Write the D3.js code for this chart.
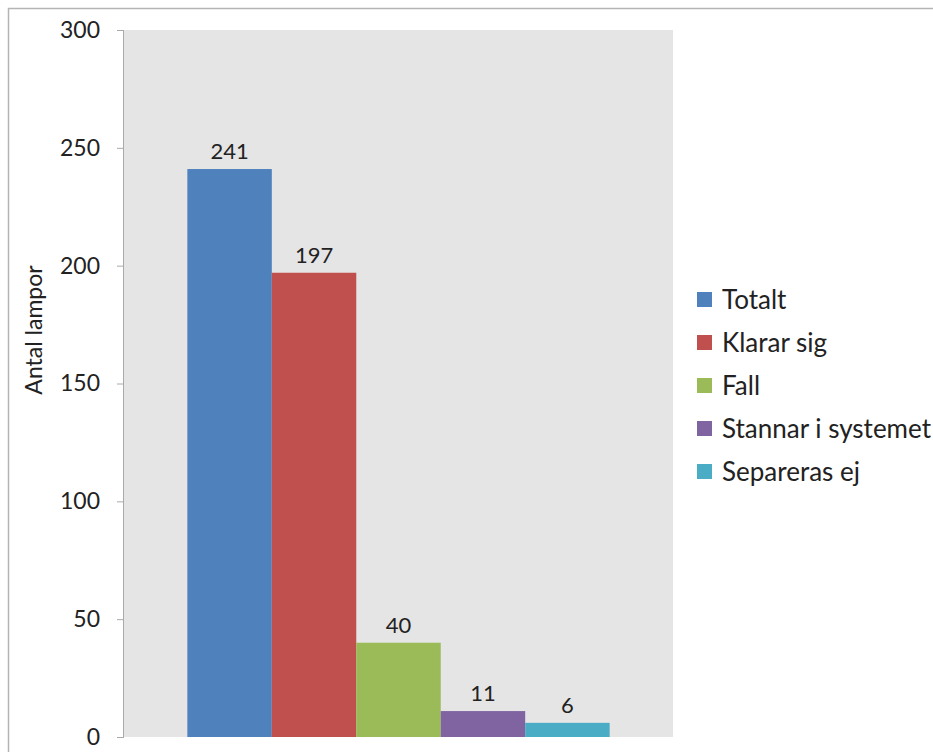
<!DOCTYPE html>
<html>
<head>
<meta charset="utf-8">
<script src="https://cdn.jsdelivr.net/npm/d3@7"></script>
<style>
  html, body { margin: 0; padding: 0; background: #fff; }
  svg { display: block; }
  text { font-family: Lato, "Open Sans", sans-serif; fill: #222; }
</style>
</head>
<body>
<svg id="chart" width="933" height="752"></svg>
<script>
// Lamp counts per outcome
const series = ["Totalt", "Klarar sig", "Fall", "Stannar i systemet", "Separeras ej"];
const values = [241, 197, 40, 11, 6];
const colors = ["#4F81BD", "#C0504D", "#9BBB59", "#8064A2", "#4BACC6"];
const yTicks = [0, 50, 100, 150, 200, 250, 300];
const yTitle = "Antal lampor";

const svg = d3.select("#chart");
const sansFont = "'Liberation Sans', Arial, sans-serif";

// outer frame
svg.append("rect")
  .attr("x", 8.5).attr("y", 8.5)
  .attr("width", 940).attr("height", 760)
  .attr("fill", "none").attr("stroke", "#b4b4b4").attr("stroke-width", 1.5);

const plot = { left: 124, right: 673, top: 30, bottom: 737 };

const y = d3.scaleLinear().domain([0, 300]).range([plot.bottom, plot.top]);
const x = d3.scaleBand().domain(series)
  .range([plot.left, plot.right])
  .paddingInner(0).paddingOuter(0.75);

// plot background
svg.append("rect")
  .attr("x", plot.left).attr("y", plot.top)
  .attr("width", plot.right - plot.left).attr("height", plot.bottom - plot.top)
  .attr("fill", "#e5e5e5");

// bars
svg.selectAll("rect.bar").data(series).enter().append("rect")
  .attr("class", "bar")
  .attr("x", d => x(d))
  .attr("width", x.bandwidth())
  .attr("y", (d, i) => y(values[i]))
  .attr("height", (d, i) => y(0) - y(values[i]))
  .attr("fill", (d, i) => colors[i]);

// value labels
svg.selectAll("text.val").data(series).enter().append("text")
  .attr("class", "val")
  .attr("x", d => x(d) + x.bandwidth() / 2)
  .attr("y", (d, i) => y(values[i]) - 10)
  .attr("text-anchor", "middle")
  .attr("font-size", 22)
  .text((d, i) => values[i]);

// y axis
const yAxis = d3.axisLeft(y).tickValues(yTicks).tickSize(7).tickPadding(17);
const ga = svg.append("g").attr("transform", `translate(${plot.left},0)`).call(yAxis);
ga.select(".domain").attr("stroke", "#aaa").attr("d", `M-0.5,${plot.top}V${plot.bottom}`);
ga.selectAll(".tick line").attr("stroke", "#aaa");
ga.selectAll(".tick text")
  .attr("font-size", 23)
  .attr("font-family", sansFont)
  .attr("fill", "#2a2a2a");

// y axis title
svg.append("text")
  .attr("transform", "translate(42,330) rotate(-90)")
  .attr("text-anchor", "middle")
  .attr("font-family", sansFont)
  .attr("font-size", 23)
  .attr("fill", "#2a2a2a")
  .text(yTitle);

// legend
const lg = svg.append("g").attr("transform", "translate(697,299.5)");
const rows = lg.selectAll("g").data(series).enter().append("g")
  .attr("transform", (d, i) => `translate(0,${i * 43})`);
rows.append("rect")
  .attr("x", 0).attr("y", -7.5).attr("width", 15).attr("height", 15)
  .attr("fill", (d, i) => colors[i]);
rows.append("text")
  .attr("x", 25).attr("y", 0).attr("dy", "0.36em")
  .attr("font-size", 26)
  .text(d => d);
</script>
</body>
</html>
